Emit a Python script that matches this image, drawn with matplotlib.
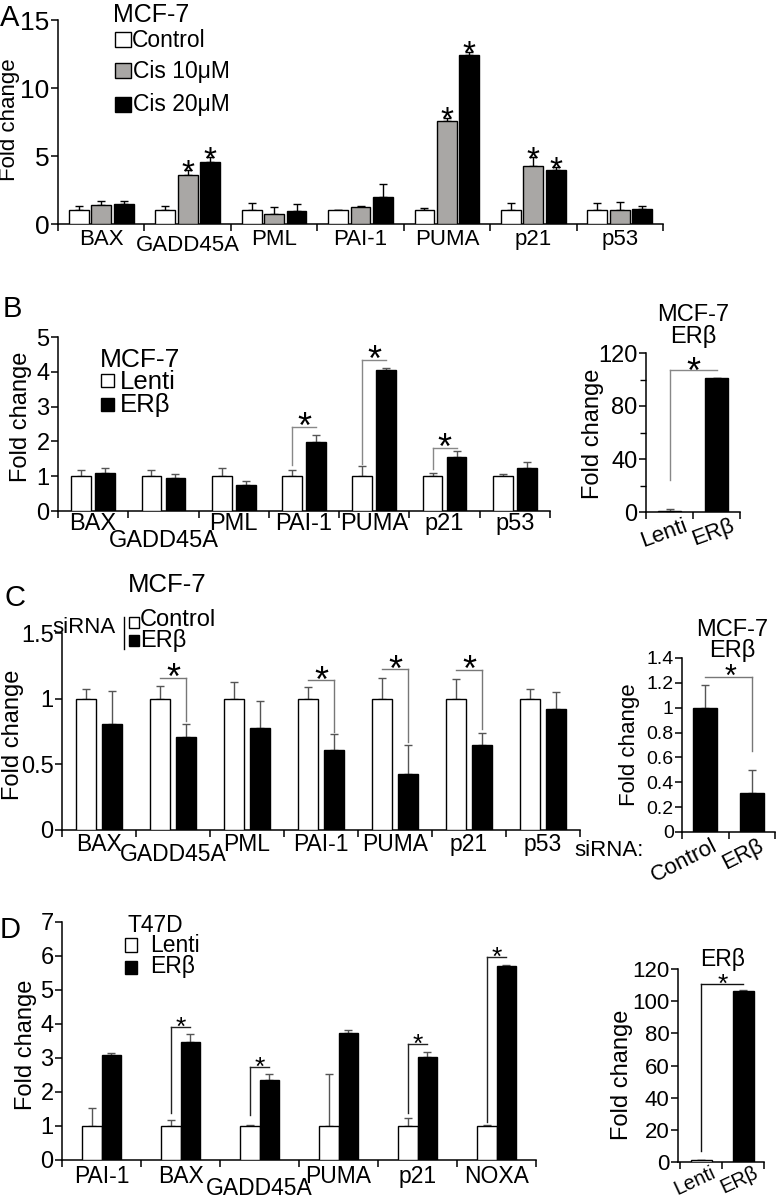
import numpy as np
import matplotlib
matplotlib.use('Agg')
import matplotlib.pyplot as plt
from matplotlib.patches import Rectangle
from matplotlib.ticker import FuncFormatter, MultipleLocator

plt.rcParams['font.family'] = ['Liberation Sans', 'DejaVu Sans']

# ---------------- data ----------------
genes_abc = ['BAX', 'GADD45A', 'PML', 'PAI-1', 'PUMA', 'p21', 'p53']
genes_d = ['PAI-1', 'BAX', 'GADD45A', 'PUMA', 'p21', 'NOXA']

# A: MCF-7 cisplatin
a_control = [1.0, 1.0, 1.0, 1.0, 1.0, 1.0, 1.0]
a_control_err = [0.3, 0.3, 0.55, 0.06, 0.15, 0.55, 0.55]
a_cis10 = [1.4, 3.6, 0.75, 1.22, 7.6, 4.3, 1.0]
a_cis10_err = [0.3, 0.35, 0.5, 0.1, 0.18, 0.6, 0.6]
a_cis20 = [1.5, 4.55, 0.93, 1.96, 12.45, 4.0, 1.08]
a_cis20_err = [0.17, 0.35, 0.57, 1.0, 0.22, 0.17, 0.24]
a_star_groups = [1, 4, 5]

# B: MCF-7 Lenti vs ERb
b_lenti = [1.0, 1.0, 1.0, 1.0, 1.0, 1.0, 1.0]
b_lenti_err = [0.17, 0.17, 0.23, 0.17, 0.3, 0.1, 0.07]
b_erb = [1.08, 0.95, 0.76, 1.98, 4.04, 1.56, 1.23]
b_erb_err = [0.15, 0.12, 0.11, 0.21, 0.06, 0.16, 0.17]
b_sig_groups = [3, 4, 5]
b_sig_top = [2.41, 4.35, 1.82]
b_sig_base = [1.31, 1.36, 1.22]

b_inset_vals = [1.0, 101.0]
b_inset_err = [1.5, 0.5]
b_inset_top = 107
b_inset_base = 24

# C: MCF-7 siRNA
c_control = [1.0, 1.0, 1.0, 1.0, 1.0, 1.0, 1.0]
c_control_err = [0.07, 0.1, 0.13, 0.09, 0.16, 0.15, 0.07]
c_erb = [0.81, 0.71, 0.78, 0.61, 0.43, 0.645, 0.925]
c_erb_err = [0.25, 0.095, 0.2, 0.12, 0.215, 0.09, 0.125]
c_sig_groups = [1, 3, 4, 5]
c_sig_top = [1.16, 1.14, 1.225, 1.22]
c_sig_base = [0.83, 0.745, 0.67, 0.77]

c_inset_vals = [1.0, 0.31]
c_inset_err = [0.18, 0.19]
c_inset_top = 1.25
c_inset_base = 0.65

# D: T47D Lenti vs ERb
d_lenti = [1.0, 1.0, 1.0, 1.0, 1.0, 1.0]
d_lenti_err = [0.53, 0.19, 0.03, 1.54, 0.24, 0.03]
d_erb = [3.08, 3.47, 2.35, 3.75, 3.03, 5.7]
d_erb_err = [0.08, 0.24, 0.19, 0.07, 0.14, 0.05]
d_sig_groups = [1, 2, 4, 5]
d_sig_top = [3.9, 2.74, 3.4, 5.96]
d_sig_base = [1.37, 1.32, 1.37, 1.13]

d_inset_vals = [1.0, 106.5]
d_inset_err = [0.3, 0.5]
d_inset_top = 110.4
d_inset_base = 7

# ---------------- helpers ----------------
W, H = 779, 1198
fig = plt.figure(figsize=(W / 100, H / 100), dpi=100)


def add_ax(x0, x1, ytop, ybot):
    return fig.add_axes([x0 / W, 1 - ybot / H, (x1 - x0) / W, (ybot - ytop) / H])


def ftext(x, y, s, **kw):
    fig.text(x / W, 1 - y / H, s, **kw)


def fbox(x0, y0, x1, y1, face):
    fig.add_artist(Rectangle((x0 / W, 1 - y1 / H), (x1 - x0) / W, (y1 - y0) / H,
                             transform=fig.transFigure, facecolor=face,
                             edgecolor='black', lw=1.0))


def style(ax, ylim, yticks, fs, ngroups):
    for s in ['top', 'right']:
        ax.spines[s].set_visible(False)
    for s in ['left', 'bottom']:
        ax.spines[s].set_linewidth(1.1)
    ax.set_ylim(*ylim)
    ax.set_yticks(yticks)
    ax.yaxis.set_major_formatter(FuncFormatter(lambda v, p: f'{v:g}'))
    ax.set_xlim(-0.5, ngroups - 0.5)
    ax.set_xticks(np.arange(ngroups + 1) - 0.5)
    ax.tick_params(axis='y', labelsize=fs, length=5, width=1.1, pad=1)
    ax.tick_params(axis='x', length=5, width=1.1, labelbottom=False)
    ax.patch.set_alpha(0)


def bars(ax, pos, vals, errs, width, face, ecol):
    ax.bar(pos, vals, width, color=face, edgecolor='black', linewidth=1.0, zorder=3)
    ax.errorbar(pos, vals, yerr=[np.zeros(len(vals)), errs], fmt='none', ecolor=ecol,
                elinewidth=1.0, capsize=3, capthick=1.0, zorder=2)


def star(ax, x, y, fs):
    # y is where the centre of the asterisk should sit
    ax.annotate('*', xy=(x, y), xytext=(0, -0.57 * fs), textcoords='offset points',
                ha='center', va='baseline', fontsize=fs, annotation_clip=False)


def bracket(ax, x0, x1, top, leg_x, base, color):
    ax.plot([x0, x1], [top, top], color=color, lw=1.0, clip_on=False)
    ax.plot([leg_x, leg_x], [base, top], color=color, lw=1.0, clip_on=False)


def gene_labels(ax, genes, fs, pad, low, low_pad):
    for i, g in enumerate(genes):
        p = low_pad if i in low else pad
        ax.annotate(g, xy=(i, 0), xycoords=('data', 'axes fraction'), xytext=(0, -p),
                    textcoords='offset pixels', ha='center', va='top', fontsize=fs)


def rot_labels(ax, labels, fs, rot, dx, dy):
    for i, g in enumerate(labels):
        ax.annotate(g, xy=(i, 0), xycoords=('data', 'axes fraction'), xytext=(dx, -dy),
                    textcoords='offset pixels', ha='right', va='top', fontsize=fs,
                    rotation=rot, rotation_mode='anchor')


# ---------------- panel A ----------------
axA = add_ax(58, 663, 20, 224)
style(axA, (0, 15), [0, 5, 10, 15], 19, 7)
x7 = np.arange(7)
bars(axA, x7 - 0.26, a_control, a_control_err, 0.23, 'white', 'black')
bars(axA, x7, a_cis10, a_cis10_err, 0.23, '#a9a7a5', 'black')
bars(axA, x7 + 0.26, a_cis20, a_cis20_err, 0.23, 'black', 'black')
for g in a_star_groups:
    star(axA, g, a_cis10[g] + a_cis10_err[g] + 0.55, 24)
    star(axA, g + 0.26, a_cis20[g] + a_cis20_err[g] + 0.55, 24)
gene_labels(axA, genes_abc, 16, 5, [1], 11)

ftext(0, 26, 'A', fontsize=21)
ftext(10, 120, 'Fold change', fontsize=16, rotation=90, ha='center', va='center')
ftext(113, 22, 'MCF-7', fontsize=18)
fbox(115, 32, 131, 47, 'white')
fbox(115, 63, 131, 78, '#a9a7a5')
fbox(115, 97, 131, 112, 'black')
ftext(132, 47, 'Control', fontsize=16.5)
ftext(133, 78, 'Cis 10\u03bcM', fontsize=16.5)
ftext(133, 111, 'Cis 20\u03bcM', fontsize=16.5)

# ---------------- panel B ----------------
axB = add_ax(58, 550, 337, 511)
style(axB, (0, 5), [0, 1, 2, 3, 4, 5], 17, 7)
bars(axB, x7 - 0.17, b_lenti, b_lenti_err, 0.28, 'white', '#555555')
bars(axB, x7 + 0.17, b_erb, b_erb_err, 0.28, 'black', '#555555')
for g, top, base in zip(b_sig_groups, b_sig_top, b_sig_base):
    bracket(axB, g - 0.17, g + 0.17, top, g - 0.17, base, '#888888')
    star(axB, g, top + 0.27, 26)
gene_labels(axB, genes_abc, 17, 2, [1], 19)

ftext(3, 317, 'B', fontsize=21)
ftext(21, 417, 'Fold change', fontsize=17, rotation=90, ha='center', va='center')
ftext(100, 367, 'MCF-7', fontsize=19)
fbox(101, 374, 114, 387, 'white')
fbox(101, 398, 114, 411, 'black')
ftext(120, 389, 'Lenti', fontsize=18.5)
ftext(120, 412, 'ER\u03b2', fontsize=18.5)

# B inset
axBi = add_ax(646, 740, 353, 512)
style(axBi, (0, 120), [0, 40, 80, 120], 17, 2)
axBi.yaxis.set_minor_locator(MultipleLocator(20))
axBi.tick_params(axis='y', which='minor', length=4, width=1.0)
bars(axBi, [0, 1], b_inset_vals, b_inset_err, 0.5, ['white', 'black'], '#555555')
bracket(axBi, 0, 1, b_inset_top, 0, b_inset_base, '#888888')
star(axBi, 0.5, b_inset_top + 6, 26)
rot_labels(axBi, ['Lenti', 'ER\u03b2'], 16, 20, 14, 3)
ftext(693, 343, 'MCF-7\nER\u03b2', fontsize=17, ha='center', va='baseline',
      linespacing=0.95, multialignment='center')
ftext(593, 434, 'Fold change', fontsize=17, rotation=90, ha='center', va='center')

# ---------------- panel C ----------------
axC = add_ax(62, 580, 633, 830)
style(axC, (0, 1.5), [0, 0.5, 1, 1.5], 17, 7)
bars(axC, x7 - 0.17, c_control, c_control_err, 0.27, 'white', '#555555')
bars(axC, x7 + 0.17, c_erb, c_erb_err, 0.27, 'black', '#555555')
for g, top, base in zip(c_sig_groups, c_sig_top, c_sig_base):
    bracket(axC, g - 0.17, g + 0.17, top, g + 0.17, base, '#777777')
    star(axC, g, top + 0.07, 26)
gene_labels(axC, genes_abc, 16.5, 3, [1], 13)

ftext(4, 606, 'C', fontsize=21)
ftext(13, 735, 'Fold change', fontsize=17, rotation=90, ha='center', va='center')
ftext(128, 592, 'MCF-7', fontsize=18.5)
ftext(52, 633, 'siRNA', fontsize=16)
fig.add_artist(plt.Line2D([124 / W, 124 / W], [1 - 617 / H, 1 - 649 / H],
                          transform=fig.transFigure, color='black', lw=1.0))
fbox(129, 617, 139, 628, 'white')
fbox(129, 635, 139, 646, 'black')
ftext(140, 626, 'Control', fontsize=17)
ftext(140, 647, 'ER\u03b2', fontsize=17)

# C inset
axCi = add_ax(682, 775, 658, 832)
style(axCi, (0, 1.4), [0, 0.2, 0.4, 0.6, 0.8, 1.0, 1.2, 1.4], 14, 2)
bars(axCi, [0, 1], c_inset_vals, c_inset_err, 0.51, 'black', '#555555')
bracket(axCi, 0, 1, c_inset_top, 1, c_inset_base, '#777777')
star(axCi, 0.55, c_inset_top + 0.065, 22)
rot_labels(axCi, ['Control', 'ER\u03b2'], 16, 27, 6, 3)
ftext(574, 856, 'siRNA:', fontsize=16)
ftext(732, 657, 'MCF-7\nER\u03b2', fontsize=17, ha='center', va='baseline',
      linespacing=0.9, multialignment='center')
ftext(629, 745, 'Fold change', fontsize=16, rotation=90, ha='center', va='center')

# ---------------- panel D ----------------
axD = add_ax(62, 536, 922, 1160)
style(axD, (0, 7), [0, 1, 2, 3, 4, 5, 6, 7], 17, 6)
x6 = np.arange(6)
bars(axD, x6 - 0.125, d_lenti, d_lenti_err, 0.25, 'white', '#555555')
bars(axD, x6 + 0.125, d_erb, d_erb_err, 0.25, 'black', '#555555')
for g, top, base in zip(d_sig_groups, d_sig_top, d_sig_base):
    bracket(axD, g - 0.125, g + 0.125, top, g - 0.125, base, '#222222')
    star(axD, g, top + 0.22, 19)
gene_labels(axD, genes_d, 16.5, 5, [2], 17)

ftext(0, 938, 'D', fontsize=21)
ftext(26, 1045, 'Fold change', fontsize=17, rotation=90, ha='center', va='center')
ftext(127, 932, 'T47D', fontsize=16.5)
fbox(125, 938, 137, 952, 'white')
fbox(125, 961, 137, 974, 'black')
ftext(150, 952, 'Lenti', fontsize=16.5)
ftext(150, 973, 'ER\u03b2', fontsize=16.5)

# D inset
axDi = add_ax(678, 764, 969, 1162)
style(axDi, (0, 120), [0, 20, 40, 60, 80, 100, 120], 16, 2)
axDi.set_xlim(-0.55, 1.5)
bars(axDi, [0, 1], d_inset_vals, d_inset_err, 0.5, ['white', 'black'], '#555555')
bracket(axDi, 0, 1, d_inset_top, 0, d_inset_base, '#111111')
star(axDi, 0.52, d_inset_top + 4.5, 19)
rot_labels(axDi, ['Lenti', 'ER\u03b2'], 14.5, 25, 10, 1)
ftext(723, 966, 'ER\u03b2', fontsize=16.5, ha='center')
ftext(622, 1075, 'Fold change', fontsize=17, rotation=90, ha='center', va='center')

fig.savefig('out.png', dpi=100)
